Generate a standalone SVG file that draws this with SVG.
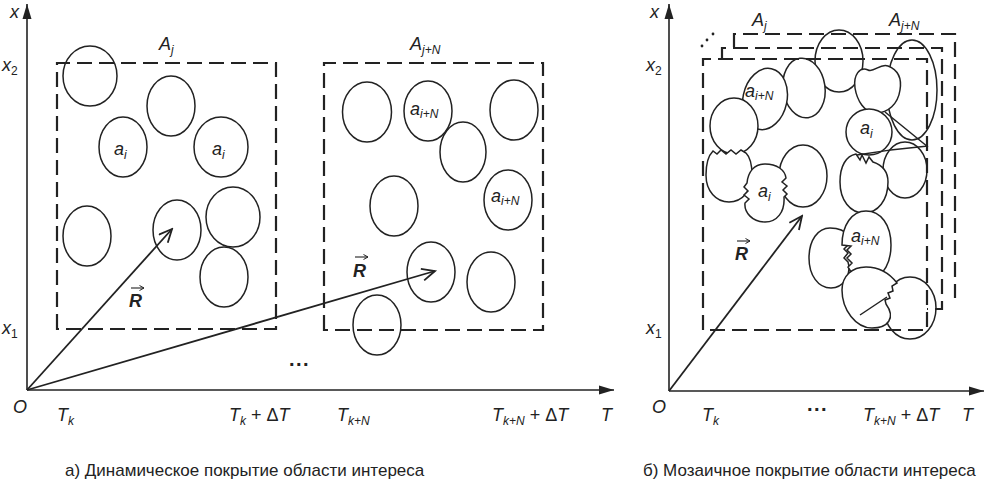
<svg xmlns="http://www.w3.org/2000/svg" width="987" height="482" viewBox="0 0 987 482">
<defs>
<marker id="ah" markerWidth="16" markerHeight="10" refX="15" refY="5" orient="auto" markerUnits="userSpaceOnUse"><path d="M0,0.5 L15,5 L0,9.5 Z" fill="#222"/></marker>
<marker id="va" markerWidth="16" markerHeight="14" refX="14" refY="7" orient="auto" markerUnits="userSpaceOnUse"><path d="M1,1 L14,7 L1,13" fill="none" stroke="#222" stroke-width="1.8"/></marker>
<marker id="sa" markerWidth="6" markerHeight="6" refX="5" refY="3" orient="auto" markerUnits="userSpaceOnUse"><path d="M0.5,0.5 L5,3 L0.5,5.5" fill="none" stroke="#222" stroke-width="1"/></marker>
</defs>
<style>
.ax{stroke:#222;stroke-width:1.6;fill:none}
.d{stroke:#222;stroke-width:2.2;fill:none;stroke-dasharray:15 7}
.c{stroke:#222;stroke-width:1.5;fill:none}
.b{stroke:#222;stroke-width:1.5;fill:#fff}
.z{stroke:#222;stroke-width:1.5;fill:none;stroke-linejoin:round}
.v{stroke:#222;stroke-width:1.8;fill:none}
.acc{stroke:#222;stroke-width:1.1;fill:none}
text{font-family:"Liberation Sans",Arial,sans-serif;fill:#222}
.i{font-style:italic;font-size:18px}
.s{font-size:12px}
.cap{font-size:17px}
.r{font-weight:bold;font-style:italic;font-size:18px}
.dots{font-weight:bold;font-size:20px;letter-spacing:1.5px}
</style>

<g id="panel-a">
  <g id="axes-a">
    <path class="ax" d="M27,390 V4" marker-end="url(#ah)"/>
    <path class="ax" d="M27,390 H614" marker-end="url(#ah)"/>
  </g>
  <g id="area-Aj">
    <path class="d" d="M57,329 V63 H276 V329 Z"/>
    <text class="i" x="159" y="50">A<tspan class="s" dy="4">j</tspan></text>
  </g>
  <g id="area-AjN">
    <path class="d" d="M324,330 V63 H543 V330 Z"/>
    <text class="i" x="410" y="50">A<tspan class="s" dy="4">j+N</tspan></text>
  </g>
  <g id="cells-a">
    <ellipse class="c" cx="90" cy="76" rx="27" ry="30"/>
    <ellipse class="c" cx="171" cy="106" rx="24" ry="30"/>
    <ellipse class="c" cx="123" cy="147" rx="24" ry="30"/>
    <ellipse class="c" cx="221" cy="147" rx="27" ry="30"/>
    <ellipse class="c" cx="87" cy="236" rx="24" ry="30"/>
    <ellipse class="c" cx="177" cy="230" rx="24" ry="30"/>
    <ellipse class="c" cx="233" cy="217" rx="27" ry="30"/>
    <ellipse class="c" cx="224" cy="277" rx="24" ry="30"/>
    <text class="i" x="114" y="155">a<tspan class="s" dy="4">i</tspan></text>
    <text class="i" x="212" y="155">a<tspan class="s" dy="4">i</tspan></text>
  </g>
  <g id="cells-b">
    <ellipse class="c" cx="367" cy="112" rx="24.5" ry="30"/>
    <ellipse class="c" cx="428" cy="111" rx="24" ry="30"/>
    <ellipse class="c" cx="463" cy="152" rx="23" ry="30"/>
    <ellipse class="c" cx="514" cy="110" rx="24" ry="30"/>
    <ellipse class="c" cx="394" cy="206" rx="24" ry="30"/>
    <ellipse class="c" cx="508" cy="200" rx="24" ry="30"/>
    <ellipse class="c" cx="431" cy="272" rx="24" ry="30"/>
    <ellipse class="c" cx="491" cy="282" rx="24" ry="30"/>
    <ellipse class="c" cx="377" cy="325" rx="24" ry="30"/>
    <text class="i" x="410" y="115">a<tspan class="s" dy="3">i+N</tspan></text>
    <text class="i" x="491" y="202">a<tspan class="s" dy="3">i+N</tspan></text>
  </g>
  <g id="vectors-a">
    <path class="v" d="M27,390 L172,229" marker-end="url(#va)"/>
    <path class="v" d="M27,390 L435,271" marker-end="url(#va)"/>
    <text class="r" x="129" y="307">R</text>
    <path class="acc" d="M131,288 H144" marker-end="url(#sa)"/>
    <text class="r" x="353" y="277">R</text>
    <path class="acc" d="M355,257 H368" marker-end="url(#sa)"/>
  </g>
  <g id="labels-a">
    <text class="i" x="10" y="18">x</text>
    <text class="i" x="2" y="71">x<tspan class="s" dy="4" font-style="normal">2</tspan></text>
    <text class="i" x="2" y="334">x<tspan class="s" dy="4" font-style="normal">1</tspan></text>
    <text class="i" x="13" y="413">O</text>
    <text class="i" x="57" y="421">T<tspan class="s" dy="4">k</tspan></text>
    <text class="i" x="229" y="421">T<tspan class="s" dy="4">k</tspan><tspan dy="-4" font-style="normal"> + Δ</tspan>T</text>
    <text class="i" x="337" y="421">T<tspan class="s" dy="4">k+N</tspan></text>
    <text class="i" x="492" y="421">T<tspan class="s" dy="4">k+N</tspan><tspan dy="-4" font-style="normal"> + Δ</tspan>T</text>
    <text class="i" x="601" y="421">T</text>
    <text class="dots" x="289" y="366">...</text>
    <text class="cap" x="65" y="476">а)  Динамическое покрытие области интереса</text>
  </g>
</g>

<g id="panel-b">
  <g id="axes-b">
    <path class="ax" d="M669,391 V4" marker-end="url(#ah)"/>
    <path class="ax" d="M669,391 H984" marker-end="url(#ah)"/>
  </g>
  <g id="tiles">
    <ellipse class="b" cx="839" cy="61" rx="24" ry="31"/>
    <ellipse class="b" cx="804" cy="88" rx="21" ry="30" transform="rotate(-8 804 88)"/>
    <ellipse class="b" cx="765" cy="99" rx="22" ry="31" transform="rotate(12 765 99)"/>
    <ellipse class="b" cx="734" cy="126" rx="24" ry="28"/>
    <path class="b" d="M706,175 C706,163 709,155 713,151 l4,3 l4,-4 l5,4 l5,-4 l5,4 l5,-4 l5,3 C750,157 752,165 752,175 C752,191 742,202 729,202 C716,202 706,191 706,175 Z"/>
    <ellipse class="b" cx="803" cy="176" rx="24" ry="31"/>
    <path class="b" d="M765,164 C777,164 785,170 786,178 l-4,4 l5,4 l-4,4 l4,4 l-3,3 C785,212 777,222 765,222 C752,222 744,212 745,203 l4,-4 l-5,-4 l4,-4 l-4,-4 l3,-4 C748,172 754,164 765,164 Z"/>

    <ellipse class="b" cx="912" cy="90" rx="25" ry="50"/>
    <path class="b" d="M855,88 C853,75 860,66 868,70 C874,73 880,63 888,66 C898,70 902,78 900,90 C898,104 888,113 876,113 C864,113 857,100 855,88 Z"/>
    <ellipse class="b" cx="869" cy="132" rx="23" ry="23"/>
    <ellipse class="b" cx="905" cy="170" rx="22" ry="28"/>
    <path class="b" d="M840,182 C840,166 846,156 856,154 l4,6 l2,-5 l4,8 l3,-6 l4,5 C882,165 888,172 888,182 C888,200 878,213 864,213 C850,213 840,200 840,182 Z"/>
    <path class="b" d="M809,258 C809,240 818,228 830,228 C840,228 846,232 849,236 l-4,4 l4,4 l-5,5 l4,4 l-4,5 l4,4 C852,275 843,288 831,288 C818,288 809,275 809,258 Z"/>
    <path class="b" d="M842,245 C842,225 852,211 866,211 C881,211 891,225 891,245 C891,262 884,276 872,278 C862,278 855,276 851,272 l-3,-5 l4,-4 l-5,-5 l4,-4 l-4,-4 l4,-4 Z"/>
    <ellipse class="b" cx="910" cy="308" rx="26" ry="31"/>
    <path class="b" d="M842,290 C842,276 852,267 866,267 C880,267 890,274 897,283 l-5,3 l1,5 l-5,2 l2,5 l-5,2 l1,4 C896,318 888,328 872,328 C856,328 842,310 842,290 Z"/>
    <path class="z" d="M885,112 L928,147 M857,155 C875,152 905,148 928,146 M860,315 L887,297"/>
    <text class="i" x="745" y="97">a<tspan class="s" dy="3">i+N</tspan></text>
    <text class="i" x="758" y="197">a<tspan class="s" dy="4">i</tspan></text>
    <text class="i" x="860" y="134">a<tspan class="s" dy="4">i</tspan></text>
    <text class="i" x="851" y="242">a<tspan class="s" dy="3">i+N</tspan></text>
  </g>
  <g id="areas-b">
    <path class="d" d="M734,47 V34 H955 V298"/>
    <path class="d" d="M722,59 V48 H942 V309 H927"/>
    <path class="d" d="M703,330 V59 H927 V330 Z"/>
    <circle cx="702" cy="46" r="1.4" fill="#222"/>
    <circle cx="707" cy="40" r="1.4" fill="#222"/>
    <circle cx="713" cy="34" r="1.4" fill="#222"/>
    <text class="i" x="752" y="26">A<tspan class="s" dy="4">j</tspan></text>
    <text class="i" x="889" y="26">A<tspan class="s" dy="4">j+N</tspan></text>
  </g>
  <g id="vector-b">
    <path class="v" d="M669,391 L802,216" marker-end="url(#va)"/>
    <text class="r" x="735" y="260">R</text>
    <path class="acc" d="M737,241 H750" marker-end="url(#sa)"/>
  </g>
  <g id="labels-b">
    <text class="i" x="650" y="18">x</text>
    <text class="i" x="646" y="71">x<tspan class="s" dy="4" font-style="normal">2</tspan></text>
    <text class="i" x="646" y="334">x<tspan class="s" dy="4" font-style="normal">1</tspan></text>
    <text class="i" x="652" y="413">O</text>
    <text class="i" x="702" y="421">T<tspan class="s" dy="4">k</tspan></text>
    <text class="dots" x="807" y="411">...</text>
    <text class="i" x="863" y="421">T<tspan class="s" dy="4">k+N</tspan><tspan dy="-4" font-style="normal"> + Δ</tspan>T</text>
    <text class="i" x="962" y="421">T</text>
    <text class="cap" x="643" y="476">б) Мозаичное покрытие области интереса</text>
  </g>
</g>
</svg>
